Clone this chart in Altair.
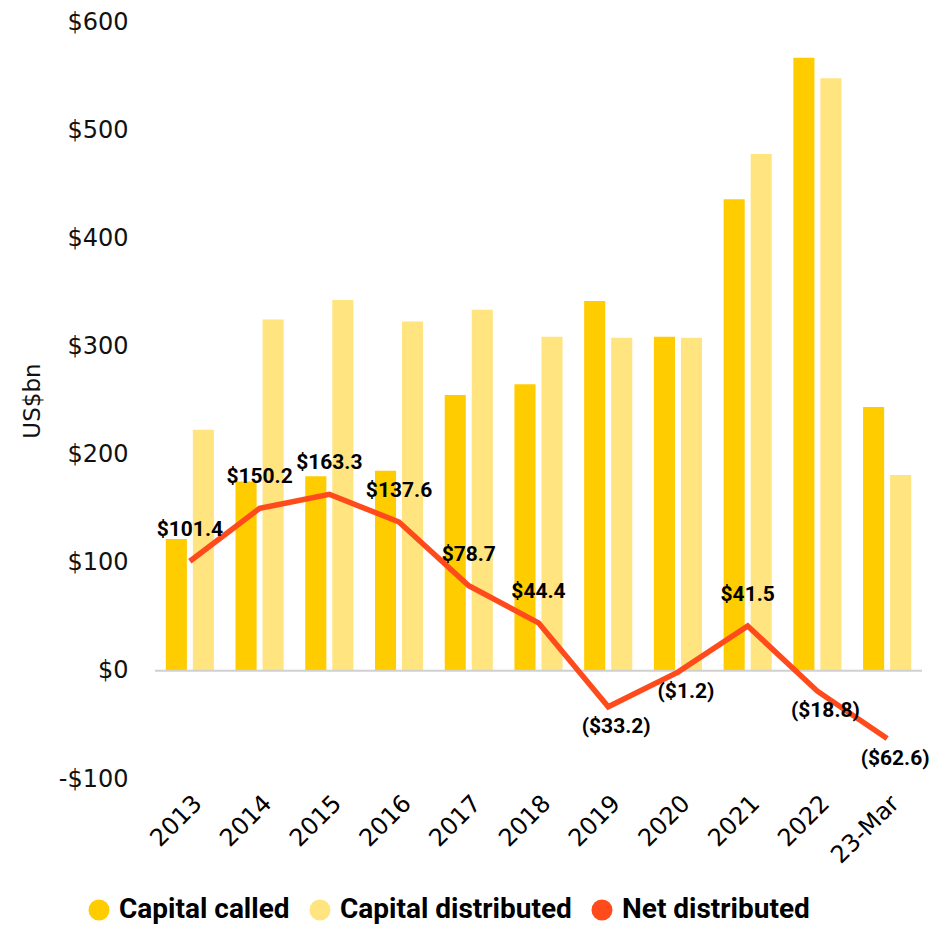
import altair as alt
import pandas as pd

categories = ["2013", "2014", "2015", "2016", "2017", "2018", "2019", "2020", "2021", "2022", "23-Mar"]
capital_called = [122, 175, 180, 185, 255, 265, 342, 309, 436, 567, 244]
capital_distributed = [223, 325, 343, 323, 334, 309, 308, 308, 478, 548, 181]
net_distributed = [101.4, 150.2, 163.3, 137.6, 78.7, 44.4, -33.2, -1.2, 41.5, -18.8, -62.6]
series_names = ["Capital called", "Capital distributed", "Net distributed"]
series_colors = ["#FFCC00", "#FFE47F", "#FF4B1C"]


def fmt(v):
    return f"(${abs(v):.1f})" if v < 0 else f"${v:.1f}"


bars = pd.DataFrame(
    [{"cat": c, "series": series_names[0], "value": v} for c, v in zip(categories, capital_called)]
    + [{"cat": c, "series": series_names[1], "value": v} for c, v in zip(categories, capital_distributed)]
)
net = pd.DataFrame({"cat": categories, "value": net_distributed,
                    "label": [fmt(v) for v in net_distributed]})

x_enc = alt.X("cat:N", sort=categories, title=None,
              scale=alt.Scale(paddingInner=0.31, paddingOuter=0.155),
              axis=alt.Axis(labelAngle=-45, labelFontSize=24, labelFont="DejaVu Sans",
                            labelColor="#000", domain=False, ticks=False, labelPadding=12))
y_scale = alt.Scale(domain=[-100, 600], nice=False)
y_axis = alt.Axis(values=[-100, 0, 100, 200, 300, 400, 500, 600],
                  labelExpr="datum.value < 0 ? '-$' + abs(datum.value) : '$' + datum.value",
                  grid=False, domain=False, ticks=False, labelFontSize=24, labelFont="DejaVu Sans",
                  labelColor="#111", labelPadding=27, title="US$bn", titleFontSize=23,
                  titleFont="DejaVu Sans", titleFontWeight="normal", titleColor="#111", titlePadding=14)

bar_layer = alt.Chart(bars).mark_bar().encode(
    x=x_enc,
    xOffset=alt.XOffset("series:N", sort=series_names[:2],
                        scale=alt.Scale(paddingInner=0.22, paddingOuter=0)),
    y=alt.Y("value:Q", scale=y_scale, axis=y_axis),
    color=alt.Color("series:N",
                    scale=alt.Scale(domain=series_names, range=series_colors),
                    legend=alt.Legend(title=None, orient="none", direction="horizontal",
                                      legendX=-70, legendY=874, symbolType="circle",
                                      symbolSize=440, symbolStrokeWidth=0,
                                      labelFont="Roboto", labelFontWeight="bold",
                                      labelFontSize=28, labelColor="#000", labelOffset=6,
                                      labelLimit=0, columnPadding=16, values=series_names)),
)

zero = alt.Chart(pd.DataFrame({"y": [0]})).mark_rule(color="#d0d0d0", strokeWidth=2).encode(
    y=alt.Y("y:Q", scale=y_scale), x=alt.value(0), x2=alt.value(767))

line = alt.Chart(net).mark_line(color="#FF4B1C", strokeWidth=5.5).encode(
    x=alt.X("cat:N", sort=categories), y=alt.Y("value:Q", scale=y_scale))

pos_text = alt.Chart(net).transform_filter("datum.value >= 0").mark_text(
    fontSize=21, fontWeight="bold", font="Roboto", color="#000", dy=-31
).encode(x=alt.X("cat:N", sort=categories), y=alt.Y("value:Q", scale=y_scale), text="label:N")

neg_text = alt.Chart(net).transform_filter("datum.value < 0").mark_text(
    fontSize=21, fontWeight="bold", font="Roboto", color="#000", dy=20, dx=8
).encode(x=alt.X("cat:N", sort=categories), y=alt.Y("value:Q", scale=y_scale), text="label:N")

chart = alt.layer(bar_layer, zero, line, pos_text, neg_text).properties(
    width=767, height=757,
    autosize=alt.AutoSizeParams(type="none"),
    padding={"left": 147, "top": 14, "right": 8, "bottom": 151},
).configure_view(stroke=None)

chart.save("out.html", embed_options={"renderer": "svg", "actions": False})
